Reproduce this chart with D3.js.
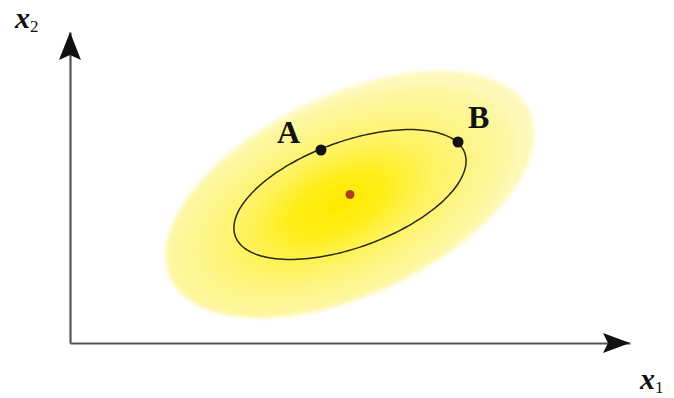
<!DOCTYPE html>
<html>
<head>
<meta charset="utf-8">
<script src="https://cdn.jsdelivr.net/npm/d3@7"></script>
<style>
  html, body { margin: 0; padding: 0; background: #fff; }
  svg { display: block; }
</style>
</head>
<body>
<svg id="chart" width="674" height="398"></svg>
<script>
// Axis extents (data units)
const axisMax = [11.2, 6.22];
const axisNames = ["x", "x"];
const axisSubs = ["1", "2"];

// Distribution: centre, inner contour and outer density region
const centre = [5.6, 2.97];
const contour = { a: 2.44, b: 1.06, angle: 20 };
const region = { a: 3.96, b: 2.0, angle: 25 };

// Labelled points on the contour
const pointNames = ["A", "B"];
const pointX = [5.02, 7.76];
const pointY = [3.86, 4.02];

const svg = d3.select("#chart");
const origin = [70, 343];
const unit = 50;

const x = d3.scaleLinear().domain([0, axisMax[0]]).range([origin[0], origin[0] + axisMax[0] * unit]);
const y = d3.scaleLinear().domain([0, axisMax[1]]).range([origin[1], origin[1] - axisMax[1] * unit]);

const defs = svg.append("defs");
const grad = defs.append("radialGradient").attr("id", "glow")
  .attr("cx", 0.46).attr("cy", 0.52).attr("r", 0.5).attr("fx", 0.46).attr("fy", 0.52);
[[0, "#ffe900"], [0.25, "#ffee18"], [0.5, "#fff35e"], [0.75, "#fef58c"], [0.93, "#fdf7a2"], [1, "#fef9ba"]]
  .forEach(([o, c]) => grad.append("stop").attr("offset", o).attr("stop-color", c));
defs.append("filter").attr("id", "soft").attr("x", "-10%").attr("y", "-10%").attr("width", "120%").attr("height", "120%")
  .append("feGaussianBlur").attr("stdDeviation", 2);

// Outer shaded region
svg.append("g")
  .attr("transform", `translate(${x(centre[0])},${y(centre[1])}) rotate(${-region.angle})`)
  .append("ellipse")
  .attr("rx", x(region.a) - x(0))
  .attr("ry", y(0) - y(region.b))
  .attr("fill", "url(#glow)")
  .attr("filter", "url(#soft)");

// Inner contour line
const th = contour.angle * Math.PI / 180;
const contourPts = d3.range(0, 360, 2).map(d => {
  const t = d * Math.PI / 180;
  const u = contour.a * Math.cos(t), v = contour.b * Math.sin(t);
  return [centre[0] + u * Math.cos(th) - v * Math.sin(th), centre[1] + u * Math.sin(th) + v * Math.cos(th)];
});
svg.append("path")
  .attr("d", d3.line().x(d => x(d[0])).y(d => y(d[1])).curve(d3.curveCardinalClosed)(contourPts))
  .attr("fill", "none").attr("stroke", "#2a2a10").attr("stroke-width", 1.5);

// Centre point
svg.append("circle").attr("cx", x(centre[0])).attr("cy", y(centre[1])).attr("r", 4.5).attr("fill", "#b0401a");

// Labelled points
const pts = pointNames.map((n, i) => ({ n, x: pointX[i], y: pointY[i] }));
svg.selectAll("circle.pt").data(pts).join("circle").attr("class", "pt")
  .attr("cx", d => x(d.x)).attr("cy", d => y(d.y)).attr("r", 5.5).attr("fill", "#111");
const labelOffset = { A: [-44, -7], B: [10, -14] };
svg.selectAll("text.pt").data(pts).join("text").attr("class", "pt")
  .attr("x", d => x(d.x) + labelOffset[d.n][0]).attr("y", d => y(d.y) + labelOffset[d.n][1])
  .attr("font-family", "Liberation Serif, Times New Roman, serif").attr("font-weight", "bold")
  .attr("font-size", 32).attr("fill", "#111").text(d => d.n);

// Axes
const axisColor = "#555";
const gx = svg.append("g").attr("transform", `translate(0,${origin[1]})`)
  .call(d3.axisBottom(x).ticks(0).tickSizeOuter(0));
const gy = svg.append("g").attr("transform", `translate(${origin[0]},0)`)
  .call(d3.axisLeft(y).ticks(0).tickSizeOuter(0));
[gx, gy].forEach(g => g.select(".domain").attr("stroke", axisColor).attr("stroke-width", 2.2));

// Arrowheads
const xt = x(axisMax[0]), yt = y(axisMax[1]);
svg.append("path")
  .attr("d", `M${xt},${origin[1]} L${xt - 27},${origin[1] - 10} L${xt - 22},${origin[1]} L${xt - 27},${origin[1] + 10} Z`)
  .attr("fill", "#111");
svg.append("path")
  .attr("d", `M${origin[0]},${yt} L${origin[0] - 11},${yt + 28} L${origin[0]},${yt + 23} L${origin[0] + 11},${yt + 28} Z`)
  .attr("fill", "#111");

// Axis titles
function axisTitle(px, py, i) {
  const t = svg.append("text").attr("x", px).attr("y", py)
    .attr("font-family", "Liberation Serif, Times New Roman, serif").attr("fill", "#111");
  t.append("tspan").attr("font-size", 30).attr("font-weight", "bold").attr("font-style", "italic").text(axisNames[i]);
  t.append("tspan").attr("font-size", 17).attr("dy", 4).text(axisSubs[i]);
}
axisTitle(640, 389, 0);
axisTitle(15, 28, 1);
</script>
</body>
</html>
